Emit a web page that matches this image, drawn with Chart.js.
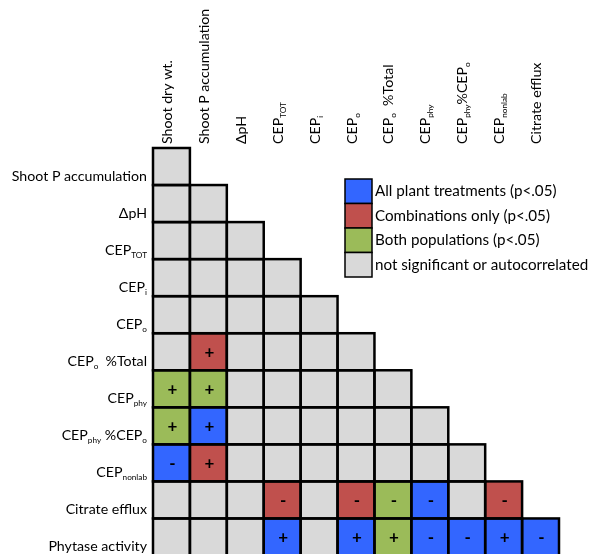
<!DOCTYPE html>
<html>
<head>
<meta charset="utf-8">
<script src="https://cdn.jsdelivr.net/npm/chart.js@4.4.1/dist/chart.umd.min.js"></script>
<style>
  html, body { margin: 0; padding: 0; background: #ffffff; overflow: hidden; }
  canvas { display: block; }
</style>
</head>
<body>
<canvas id="chart" width="598" height="560"></canvas>
<script>
// Variables compared (subscripts written as _{...})
const columnLabels = [
  'Shoot dry wt.', 'Shoot P accumulation', '\u0394pH', 'CEP_{TOT}', 'CEP_{i}', 'CEP_{o}',
  'CEP_{o}  %Total', 'CEP_{phy}', 'CEP_{phy}%CEP_{o}', 'CEP_{nonlab}', 'Citrate efflux'
];
const rowLabels = [
  'Shoot P accumulation', '\u0394pH', 'CEP_{TOT}', 'CEP_{i}', 'CEP_{o}', 'CEP_{o}  %Total',
  'CEP_{phy}', 'CEP_{phy} %CEP_{o}', 'CEP_{nonlab}', 'Citrate efflux', 'Phytase activity'
];

// Significance class of each correlation (row r has r+1 cells)
// 0 = not significant or autocorrelated, 1 = all plant treatments,
// 2 = combinations only, 3 = both populations
const significance = [
  [0],
  [0, 0],
  [0, 0, 0],
  [0, 0, 0, 0],
  [0, 0, 0, 0, 0],
  [0, 2, 0, 0, 0, 0],
  [3, 3, 0, 0, 0, 0, 0],
  [3, 1, 0, 0, 0, 0, 0, 0],
  [1, 2, 0, 0, 0, 0, 0, 0, 0],
  [0, 0, 0, 2, 0, 2, 3, 1, 0, 2],
  [0, 0, 0, 1, 0, 1, 3, 1, 1, 1, 1]
];

// Direction of each significant correlation
const signs = [
  [''],
  ['', ''],
  ['', '', ''],
  ['', '', '', ''],
  ['', '', '', '', ''],
  ['', '+', '', '', '', ''],
  ['+', '+', '', '', '', '', ''],
  ['+', '+', '', '', '', '', '', ''],
  ['-', '+', '', '', '', '', '', '', ''],
  ['', '', '', '-', '', '-', '-', '-', '', '-'],
  ['', '', '', '+', '', '+', '+', '-', '-', '+', '-']
];

const classColors = ['#D9D9D9', '#3366FF', '#C0504D', '#9BBB59'];
const legendClasses = [1, 2, 3, 0];
const legendLabels = [
  'All plant treatments (p<.05)',
  'Combinations only (p<.05)',
  'Both populations (p<.05)',
  'not significant or autocorrelated'
];

const FONT = 'Lato, "DejaVu Sans", sans-serif';
const plainLabel = s => s.replace(/_\{([^}]*)\}/g, '$1');

// Split "CEP_{phy}" into [{t:'CEP',sub:false},{t:'phy',sub:true}]
function segments(text) {
  const out = [];
  const re = /_\{([^}]*)\}/g;
  let last = 0, m;
  while ((m = re.exec(text)) !== null) {
    if (m.index > last) out.push({ t: text.slice(last, m.index), sub: false });
    out.push({ t: m[1], sub: true });
    last = re.lastIndex;
  }
  if (last < text.length) out.push({ t: text.slice(last), sub: false });
  return out;
}

function drawRich(ctx, text, x, y, align, size) {
  const segs = segments(text);
  const subSize = size * 0.58;
  let total = 0;
  segs.forEach(s => {
    ctx.font = (s.sub ? subSize : size) + 'px ' + FONT;
    s.w = ctx.measureText(s.t).width;
    total += s.w;
  });
  let cx = align === 'right' ? x - total : x;
  ctx.textAlign = 'left';
  ctx.textBaseline = 'alphabetic';
  segs.forEach(s => {
    ctx.font = (s.sub ? subSize : size) + 'px ' + FONT;
    ctx.fillText(s.t, cx, s.sub ? y + 3 : y);
    cx += s.w;
  });
}

// One floating-bar dataset per matrix row: each cell spans [r, r+1] on the y scale
const datasets = rowLabels.map((name, r) => ({
  label: plainLabel(name),
  data: significance[r].map(() => [r, r + 1]),
  backgroundColor: significance[r].map(k => classColors[k]),
  borderWidth: 0,
  borderSkipped: false,
  categoryPercentage: 1,
  barPercentage: 1,
  grouped: false
}));

const matrixDecor = {
  id: 'matrixDecor',
  afterDatasetsDraw(chart) {
    const ctx = chart.ctx;
    ctx.save();
    // Cell outlines
    ctx.strokeStyle = '#000000';
    ctx.lineWidth = 2.5;
    chart.data.datasets.forEach((ds, r) => {
      chart.getDatasetMeta(r).data.forEach(bar => {
        const p = bar.getProps(['x', 'y', 'base', 'width'], true);
        const top = Math.min(p.y, p.base), bottom = Math.max(p.y, p.base);
        ctx.strokeRect(p.x - p.width / 2, top, p.width, bottom - top);
      });
    });
    // Signs
    ctx.fillStyle = '#000000';
    ctx.font = 'bold 17px ' + FONT;
    ctx.textAlign = 'center';
    ctx.textBaseline = 'middle';
    chart.data.datasets.forEach((ds, r) => {
      chart.getDatasetMeta(r).data.forEach((bar, c) => {
        const s = signs[r][c];
        if (!s) return;
        const p = bar.getProps(['x', 'y', 'base'], true);
        ctx.fillText(s, p.x + 1, (p.y + p.base) / 2 + 1);
      });
    });
    ctx.restore();
  },
  afterDraw(chart) {
    const ctx = chart.ctx;
    const xs = chart.scales.x, ys = chart.scales.y;
    const area = chart.chartArea;
    ctx.save();
    ctx.fillStyle = '#000000';
    // Row labels, right aligned left of the matrix
    rowLabels.forEach((name, r) => {
      const yc = ys.getPixelForValue(r + 0.5);
      drawRich(ctx, name, area.left - 6, yc + 14, 'right', 14.2);
    });
    // Column labels, vertical above the matrix
    columnLabels.forEach((name, c) => {
      const xc = xs.getPixelForValue(c);
      ctx.save();
      ctx.translate(xc + 0.5, area.top - 4);
      ctx.rotate(-Math.PI / 2);
      drawRich(ctx, name, 0, 0, 'left', 14.2);
      ctx.restore();
    });
    // Key
    const kx = 345, ky = 179, kw = 27, kh = 24.5;
    legendClasses.forEach((k, i) => {
      ctx.fillStyle = classColors[k];
      ctx.fillRect(kx, ky + i * kh, kw, kh);
      ctx.strokeStyle = '#000000';
      ctx.lineWidth = 1.5;
      ctx.strokeRect(kx, ky + i * kh, kw, kh);
      ctx.fillStyle = '#000000';
      ctx.font = '15.2px ' + FONT;
      ctx.textAlign = 'left';
      ctx.textBaseline = 'alphabetic';
      ctx.fillText(legendLabels[i], kx + kw + 3, ky + i * kh + kh / 2 + 5);
    });
    ctx.restore();
  }
};

new Chart(document.getElementById('chart'), {
  type: 'bar',
  data: { labels: columnLabels.map(plainLabel), datasets },
  options: {
    responsive: false,
    animation: false,
    layout: { padding: { left: 153, top: 148, right: 39, bottom: 4.5 } },
    scales: {
      x: { type: 'category', offset: true, display: false },
      y: { type: 'linear', min: 0, max: rowLabels.length, reverse: true, display: false }
    },
    plugins: {
      legend: { display: false },
      tooltip: { enabled: false }
    }
  },
  plugins: [matrixDecor]
});
</script>
</body>
</html>
